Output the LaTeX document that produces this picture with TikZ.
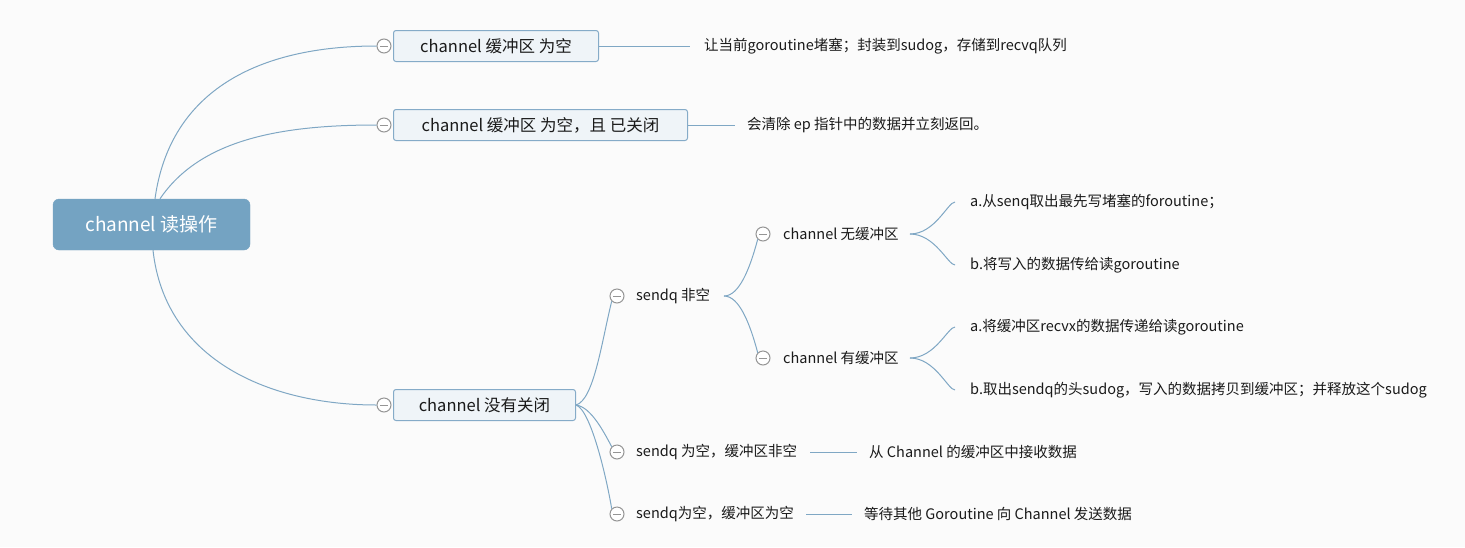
\documentclass[tikz,border=0pt]{standalone}
\usepackage{fontspec}
\setmainfont{Noto Sans CJK SC}
\usetikzlibrary{positioning}

\definecolor{bgcol}{HTML}{FBFBFB}
\definecolor{ink}{HTML}{1A1A1A}
\definecolor{rootfill}{HTML}{74A3C2}
\definecolor{boxfill}{HTML}{EFF4F8}
\definecolor{boxline}{HTML}{85ABC8}
\definecolor{branchblue}{HTML}{7FA7C4}
\definecolor{togglegray}{HTML}{959595}

\begin{document}
\begin{tikzpicture}[x=1pt, y=-1pt,
	every node/.style = {font=\fontsize{14.5}{16}\selectfont, text=ink, inner sep=0pt},
	root/.style = {draw=rootfill, fill=rootfill, rounded corners=6pt, text=white,
		font=\fontsize{19}{21}\selectfont, minimum width=197pt, minimum height=51pt},
	topic/.style = {draw=boxline, fill=boxfill, rounded corners=2.5pt, anchor=west, line width=1pt,
		font=\fontsize{16.5}{18}\selectfont, minimum height=31pt},
	toggle/.style = {draw=togglegray, fill=white, circle, minimum size=14pt, line width=1pt,
		path picture={\draw[togglegray, line width=1pt]
			([xshift=3pt]path picture bounding box.west) -- ([xshift=-3pt]path picture bounding box.east);}},
	leaf/.style = {anchor=west},
	branch/.style = {draw=branchblue, line width=1pt}
]
\path[fill=bgcol] (0,0) rectangle (1465,547);

% root
\node [root] (root) at (151.5,224.5) {channel 读操作};

% first level
\node [toggle] (t1) at (384,46) {};
\node [topic, minimum width=205pt] (b1) at (393,46) {channel 缓冲区 为空};
\node [leaf] (n1) at (704,46) {让当前goroutine堵塞；封装到sudog，存储到recvq队列};

\node [toggle] (t2) at (384,125) {};
\node [topic, minimum width=294pt] (b2) at (393,125) {channel 缓冲区 为空，且 已关闭};
\node [leaf] (n2) at (747,125) {会清除 ep 指针中的数据并立刻返回。};

\node [toggle] (t3) at (384,405) {};
\node [topic, minimum width=182pt] (b3) at (393,405) {channel 没有关闭};

% second level
\node [toggle] (t4) at (617,296) {};
\node [leaf] (s1) at (636,296) {sendq 非空};
\coordinate (f1) at (724,296);

\node [toggle] (t5) at (617,452) {};
\node [leaf] (s2) at (636,452) {sendq 为空，缓冲区非空};
\node [leaf] (r2) at (869,452) {从 Channel 的缓冲区中接收数据};

\node [toggle] (t6) at (617,514) {};
\node [leaf] (s3) at (636,514) {sendq为空，缓冲区为空};
\node [leaf] (r3) at (864,514) {等待其他 Goroutine 向 Channel 发送数据};

% third level
\node [toggle] (t7) at (763,234) {};
\node [leaf] (c1) at (783,234) {channel 无缓冲区};
\coordinate (f2) at (910,234);
\node [leaf] (a1) at (970,202) {a.从senq取出最先写堵塞的foroutine；};
\node [leaf] (a2) at (970,265) {b.将写入的数据传给读goroutine};

\node [toggle] (t8) at (763,358) {};
\node [leaf] (c2) at (783,358) {channel 有缓冲区};
\coordinate (f3) at (910,358);
\node [leaf] (a3) at (970,327) {a.将缓冲区recvx的数据传递给读goroutine};
\node [leaf] (a4) at (970,390) {b.取出sendq的头sudog，写入的数据拷贝到缓冲区；并释放这个sudog};

% connectors
\draw [branch] ([xshift=3.5pt]root.north) .. controls +(15,-109) and +(-117,0) .. (t1.west);
\draw [branch] ([xshift=8.5pt]root.north) .. controls +(40,-59) and +(-97,0) .. (t2.west);
\draw [branch] ([xshift=1.5pt]root.south) .. controls +(12,110) and +(-107,0) .. (t3.west);

\draw [branch, shorten >=14pt] (b1.east) -- (n1.west);
\draw [branch, shorten >=12pt] (b2.east) -- (n2.west);

\draw [branch] (b3.east) .. controls +(18,-5) and +(-10,40) .. (t4.south west);
\draw [branch] (b3.east) .. controls +(15,2) and +(-8,-15) .. (t5.north west);
\draw [branch] (b3.east) .. controls +(15,5) and +(-5,-30) .. (t6.north west);

\draw [branch, shorten <=13pt, shorten >=12pt] (s2.east) -- (r2.west);
\draw [branch, shorten <=12pt, shorten >=12pt] (s3.east) -- (r3.west);

\draw [branch] (f1) .. controls +(15,0) and +(-8,30) .. (t7.south west);
\draw [branch] (f1) .. controls +(15,0) and +(-8,-30) .. (t8.north west);

\draw [branch, shorten >=15pt] (f2) .. controls +(25,0) and +(-22,0) .. (a1.west);
\draw [branch, shorten >=15pt] (f2) .. controls +(25,0) and +(-22,0) .. (a2.west);
\draw [branch, shorten >=15pt] (f3) .. controls +(25,0) and +(-22,0) .. (a3.west);
\draw [branch, shorten >=15pt] (f3) .. controls +(25,0) and +(-22,0) .. (a4.west);
\end{tikzpicture}
\end{document}
